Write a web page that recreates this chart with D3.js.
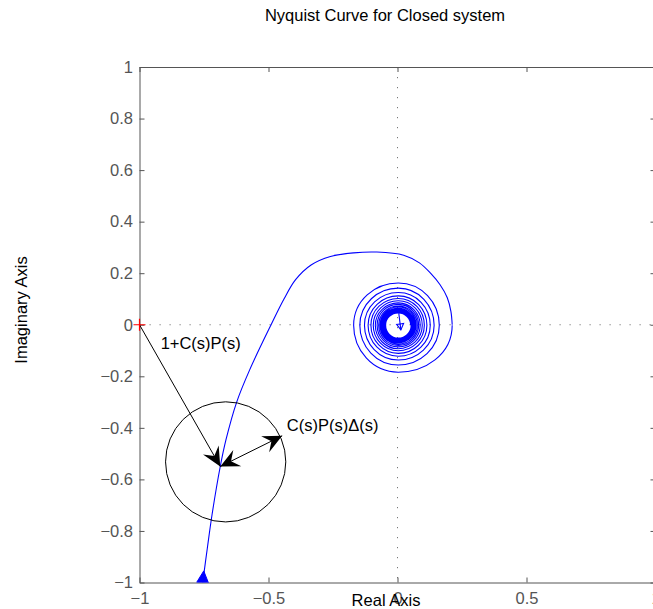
<!DOCTYPE html>
<html>
<head>
<meta charset="utf-8">
<script src="https://cdn.jsdelivr.net/npm/d3@7"></script>
<style>
  html, body { margin: 0; padding: 0; background: #fff; }
  svg { display: block; font-family: "Liberation Sans", Arial, Helvetica, sans-serif; }
</style>
</head>
<body>
<svg id="chart" width="653" height="609"></svg>
<script>
// ---------- data ----------
const titleText = "Nyquist Curve for Closed system";
const xLabelText = "Real Axis";
const yLabelText = "Imaginary Axis";
const xTicks = [-1, -0.5, 0, 0.5, 1];
const xTickLabels = ["\u22121", "\u22120.5", "0", "0.5", "1"];
const yTicks = [-1, -0.8, -0.6, -0.4, -0.2, 0, 0.2, 0.4, 0.6, 0.8, 1];
const yTickLabels = ["\u22121", "\u22120.8", "\u22120.6", "\u22120.4", "\u22120.2", "0", "0.2", "0.4", "0.6", "0.8", "1"];

// main Nyquist branch (real, imag)
const curveRe = [-0.755, -0.737, -0.719, -0.687, -0.665, -0.623, -0.573, -0.490, -0.440, -0.395, -0.335, -0.260, -0.170, -0.080, 0.024, 0.085, 0.128, 0.165, 0.193, 0.207, 0.212];
const curveIm = [-1.000, -0.866, -0.738, -0.550, -0.447, -0.299, -0.175, 0.000, 0.100, 0.175, 0.232, 0.265, 0.279, 0.282, 0.270, 0.240, 0.200, 0.155, 0.105, 0.052, 0.000];

// spiral toward the origin: centre and radius at every quarter turn (right, bottom, left, top, ...)
const spiralCenter = [0.003, -0.002];
const spiralR = [0.209, 0.182, 0.173, 0.164,
  0.159, 0.154, 0.149, 0.144, 0.139, 0.135, 0.131, 0.127, 0.124, 0.120, 0.117, 0.114,
  0.111, 0.109, 0.106, 0.104, 0.101, 0.099, 0.097, 0.095, 0.093, 0.091, 0.089, 0.087,
  0.085, 0.084, 0.082, 0.081, 0.079, 0.078, 0.076, 0.075, 0.074, 0.073, 0.071, 0.071,
  0.069, 0.068, 0.067, 0.066, 0.065, 0.064, 0.063, 0.062, 0.062, 0.061, 0.060, 0.059,
  0.058, 0.057, 0.057, 0.056, 0.055, 0.055, 0.054, 0.054, 0.053, 0.052, 0.052, 0.051,
  0.050, 0.050, 0.049, 0.048, 0.048];
// inner end of the curve (short stroke with arrow)
const innerRe = [0.005, 0.013];
const innerIm = [0.045, -0.020];

// start-direction arrow on the curve
const startArrowRe = [-0.755, -0.751];
const startArrowIm = [-1.000, -0.955];

// critical point
const critical = [-1, 0];

// uncertainty disk
const diskCenter = [-0.666, -0.532];
const diskRadius = 0.233;

// annotation arrows
const arrow1From = [-1, 0], arrow1To = [-0.687, -0.550];
const arrow2From = [-0.687, -0.550], arrow2To = [-0.447, -0.431];
const label1 = { text: "1+C(s)P(s)", re: -0.918, im: -0.094 };
const label2 = { text: "C(s)P(s)\u0394(s)", re: -0.429, im: -0.412 };

// ---------- drawing ----------
const W = 653, H = 609;
const svg = d3.select("#chart");
const x = d3.scaleLinear().domain([-1, 1]).range([139.5, 655.5]);
const y = d3.scaleLinear().domain([-1, 1]).range([582.5, 67]);
const FS = 16.5;
const axisCol = "#555";

svg.append("rect").attr("width", W).attr("height", H).attr("fill", "#fff");

svg.append("defs").append("clipPath").attr("id", "clip")
  .append("rect").attr("x", x(-1)).attr("y", y(1))
  .attr("width", x(1) - x(-1)).attr("height", y(-1) - y(1));

// zero lines (dotted)
svg.append("line").attr("x1", x(0)).attr("x2", x(0)).attr("y1", y(1)).attr("y2", y(-1))
  .attr("stroke", "#777").attr("stroke-width", 1).attr("stroke-dasharray", "1.2 8.8");
svg.append("line").attr("x1", x(-1)).attr("x2", x(1)).attr("y1", y(0)).attr("y2", y(0))
  .attr("stroke", "#777").attr("stroke-width", 1).attr("stroke-dasharray", "1.2 8.8");

// axes
const gB = svg.append("g").attr("transform", `translate(0,${y(-1)})`)
  .call(d3.axisBottom(x).tickValues(xTicks).tickSizeInner(-5).tickSizeOuter(0).tickPadding(10)
    .tickFormat((d, i) => xTickLabels[i]));
const gT = svg.append("g").attr("transform", `translate(0,${y(1)})`)
  .call(d3.axisTop(x).tickValues(xTicks).tickSizeInner(-5).tickSizeOuter(0).tickFormat(""));
const gL = svg.append("g").attr("transform", `translate(${x(-1)},0)`)
  .call(d3.axisLeft(y).tickValues(yTicks).tickSizeInner(-5).tickSizeOuter(0).tickPadding(6.5)
    .tickFormat((d, i) => yTickLabels[i]));
const gR = svg.append("g").attr("transform", `translate(${x(1)},0)`)
  .call(d3.axisRight(y).tickValues(yTicks).tickSizeInner(-5).tickSizeOuter(0).tickFormat(""));
[gB, gT, gL, gR].forEach(g => {
  g.select(".domain").attr("stroke", axisCol);
  g.selectAll(".tick line").attr("stroke", axisCol);
  g.selectAll("text").attr("fill", axisCol).attr("font-size", FS)
    .attr("font-family", "'Liberation Sans', Arial, sans-serif");
});

// curves
const plot = svg.append("g").attr("clip-path", "url(#clip)");
const mainPts = curveRe.map((r, i) => [x(r), y(curveIm[i])]);
plot.append("path").attr("d", d3.line().curve(d3.curveCatmullRom.alpha(0.5))(mainPts))
  .attr("fill", "none").attr("stroke", "#0000ff").attr("stroke-width", 1.1);

// spiral: quarter-turn points joined by quarter-ellipse Bezier segments
const dirs = [[1, 0], [0, -1], [-1, 0], [0, 1]];
const K = 0.5523;
const sp = d3.path();
let prev = null;
spiralR.forEach((r, i) => {
  const u = dirs[i % 4];
  const t = [u[1], -u[0]];
  const P = [spiralCenter[0] + u[0] * r, spiralCenter[1] + u[1] * r];
  if (!prev) sp.moveTo(x(P[0]), y(P[1]));
  else {
    const c1 = [prev.P[0] + K * prev.r * prev.t[0], prev.P[1] + K * prev.r * prev.t[1]];
    const c2 = [P[0] - K * r * t[0], P[1] - K * r * t[1]];
    sp.bezierCurveTo(x(c1[0]), y(c1[1]), x(c2[0]), y(c2[1]), x(P[0]), y(P[1]));
  }
  prev = { P, r, t };
});
plot.append("path").attr("d", sp.toString())
  .attr("fill", "none").attr("stroke", "#0000ff").attr("stroke-width", 1.1);

function headPoly(p0, p1, L, Wd, N) {
  const dx = p1[0] - p0[0], dy = p1[1] - p0[1];
  const len = Math.hypot(dx, dy), ux = dx / len, uy = dy / len, nx = -uy, ny = ux;
  return [
    [p1[0], p1[1]],
    [p1[0] - L * ux + Wd * nx, p1[1] - L * uy + Wd * ny],
    [p1[0] - (L - N) * ux, p1[1] - (L - N) * uy],
    [p1[0] - L * ux - Wd * nx, p1[1] - L * uy - Wd * ny]
  ];
}

// inner end stroke and small arrow
plot.append("line").attr("x1", x(innerRe[0])).attr("y1", y(innerIm[0]))
  .attr("x2", x(innerRe[1])).attr("y2", y(innerIm[1]))
  .attr("stroke", "#0000ff").attr("stroke-width", 1.1);
const inA = [x(innerRe[0]), y(innerIm[0])], inB = [x(innerRe[1]), y(innerIm[1])];
plot.append("polygon").attr("points", headPoly(inA, inB, 6, 3.5, 0).map(p => p.join(",")).join(" "))
  .attr("fill", "none").attr("stroke", "#0000ff").attr("stroke-width", 1.1);

// start arrow (filled triangle)
const sa0 = [x(startArrowRe[0]), y(startArrowIm[0])], sa1 = [x(startArrowRe[1]), y(startArrowIm[1])];
plot.append("polygon").attr("points", headPoly(sa0, sa1, 12, 6, 0).map(p => p.join(",")).join(" "))
  .attr("fill", "#0000ff").attr("stroke", "#0000ff").attr("stroke-width", 1);

// uncertainty disk
svg.append("ellipse").attr("cx", x(diskCenter[0])).attr("cy", y(diskCenter[1]))
  .attr("rx", x(diskRadius) - x(0)).attr("ry", y(0) - y(diskRadius))
  .attr("fill", "none").attr("stroke", "#000").attr("stroke-width", 1);

// annotation arrows
function drawArrow(from, to, both) {
  const a = [x(from[0]), y(from[1])], b = [x(to[0]), y(to[1])];
  svg.append("line").attr("x1", a[0]).attr("y1", a[1]).attr("x2", b[0]).attr("y2", b[1])
    .attr("stroke", "#000").attr("stroke-width", 1);
  svg.append("polygon").attr("points", headPoly(a, b, 19, 9, 7).map(p => p.join(",")).join(" "))
    .attr("fill", "#000");
  if (both) svg.append("polygon").attr("points", headPoly(b, a, 19, 9, 7).map(p => p.join(",")).join(" "))
    .attr("fill", "#000");
}
drawArrow(arrow1From, arrow1To, false);
drawArrow(arrow2From, arrow2To, true);

// critical point marker
const cx0 = x(critical[0]), cy0 = y(critical[1]);
svg.append("path").attr("d", `M${cx0 - 6},${cy0}H${cx0 + 6}M${cx0},${cy0 - 6}V${cy0 + 6}`)
  .attr("stroke", "#ff0000").attr("stroke-width", 1.2);

// annotation labels
[label1, label2].forEach(l => {
  svg.append("text").attr("x", x(l.re)).attr("y", y(l.im)).attr("font-size", FS)
    .attr("fill", "#000").text(l.text);
});

// title & axis labels
svg.append("text").attr("x", 385).attr("y", 21).attr("text-anchor", "middle")
  .attr("font-size", FS).attr("fill", "#000").text(titleText);
svg.append("text").attr("x", 386).attr("y", 606).attr("text-anchor", "middle")
  .attr("font-size", FS).attr("fill", "#000").text(xLabelText);
svg.append("text").attr("transform", "translate(27,310) rotate(-90)").attr("text-anchor", "middle")
  .attr("font-size", FS).attr("fill", "#000").text(yLabelText);
</script>
</body>
</html>
